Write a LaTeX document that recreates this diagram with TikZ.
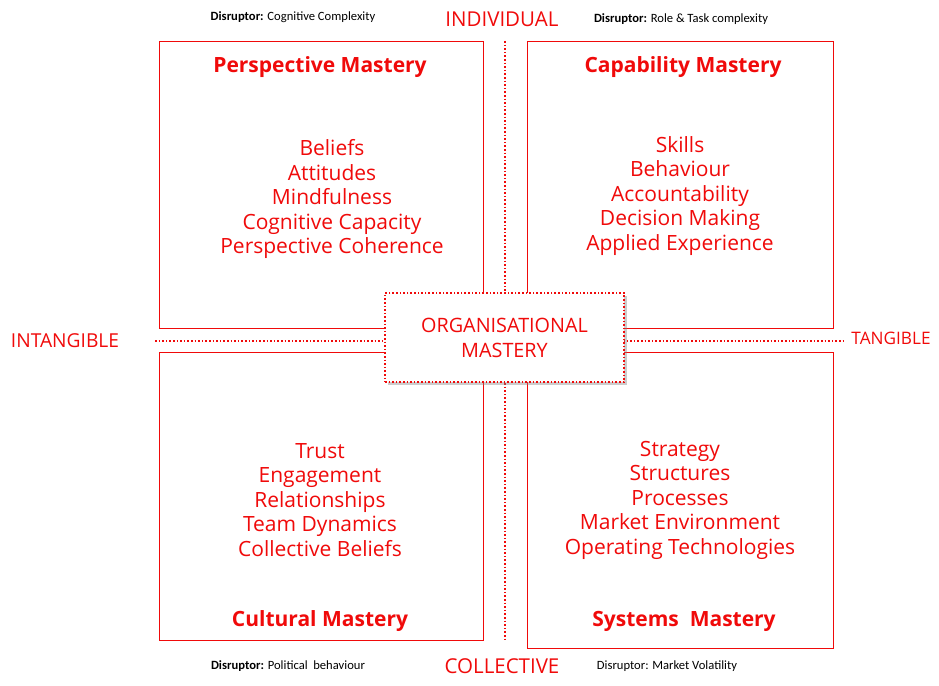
\documentclass[tikz,border=0pt]{standalone}
\usepackage{fontspec}
\setmainfont{Open Sans}
\newfontfamily\calfont{Carlito}
\usetikzlibrary{shadows}
\definecolor{rd}{RGB}{240,10,10}
\begin{document}
\begin{tikzpicture}[x=1pt,y=-1pt,
  quad/.style={draw=rd,line width=1pt},
  ttl/.style={text=rd,font=\fontsize{21}{24}\selectfont\bfseries},
  lst/.style={text=rd,font=\fontsize{21}{24.5}\selectfont,align=center},
  axis/.style={text=rd,font=\fontsize{20.5}{22}\selectfont},
  dis/.style={font=\calfont\fontsize{12.6}{14}\selectfont},
  dots/.style={draw=rd,dotted,line width=1.6pt}]
\useasboundingbox (0,0) rectangle (939,685);
\draw[dots] (505,41) coordinate (vt) -- (505,640) coordinate (vb);
\draw[dots] (155,341) coordinate (hl) -- (845,341) coordinate (hr);
\node[quad,fill=white,minimum width=324pt,minimum height=287pt,anchor=north west] (tl) at (159,41) {};
\node[quad,fill=white,minimum width=306pt,minimum height=287pt,anchor=north west] (tr) at (527,41) {};
\node[quad,fill=white,minimum width=324pt,minimum height=288pt,anchor=north west] (bl) at (159,352) {};
\node[quad,fill=white,minimum width=306pt,minimum height=296pt,anchor=north west] (br) at (527,352) {};
\node[draw=rd,dotted,line width=1.6pt,fill=white,drop shadow={opacity=0.4},minimum width=239pt,minimum height=89pt,text=rd,font=\fontsize{19.8}{25}\selectfont,align=center] (c) at (504.5,337.5) {ORGANISATIONAL\\MASTERY};
\node[ttl] (t1) at (320,67) {Perspective Mastery};
\node[ttl] (t2) at (683,67) {Capability Mastery};
\node[ttl] (t3) at (320,621) {Cultural Mastery};
\node[ttl] (t4) at (684,621) {Systems\ \ Mastery};
\node[lst] (l1) at (332,199) {Beliefs\\Attitudes\\Mindfulness\\Cognitive Capacity\\Perspective Coherence};
\node[lst] (l2) at (680,196) {Skills\\Behaviour\\Accountability\\Decision Making\\Applied Experience};
\node[lst] (l3) at (320,500) {Trust\\Engagement\\Relationships\\Team Dynamics\\Collective Beliefs};
\node[lst] (l4) at (680,500) {Strategy\\Structures\\Processes\\Market Environment\\Operating Technologies};
\node[axis] (a1) at (502,19) {INDIVIDUAL};
\node[axis] (a2) at (502,666) {COLLECTIVE};
\node[axis,font=\fontsize{19.2}{21}\selectfont] (a3) at (65,341) {INTANGIBLE};
\node[axis,font=\fontsize{17.2}{19}\selectfont] (a4) at (891,338) {TANGIBLE};
\node[dis] (d1) at (293,17) {\textbf{Disruptor:} Cognitive Complexity};
\node[dis] (d2) at (681,19) {\textbf{Disruptor:} Role \& Task complexity};
\node[dis] (d3) at (288,666) {\textbf{Disruptor:} Political\ \ behaviour};
\node[dis] (d4) at (667,666) {Disruptor: Market Volatility};
\end{tikzpicture}
\end{document}
